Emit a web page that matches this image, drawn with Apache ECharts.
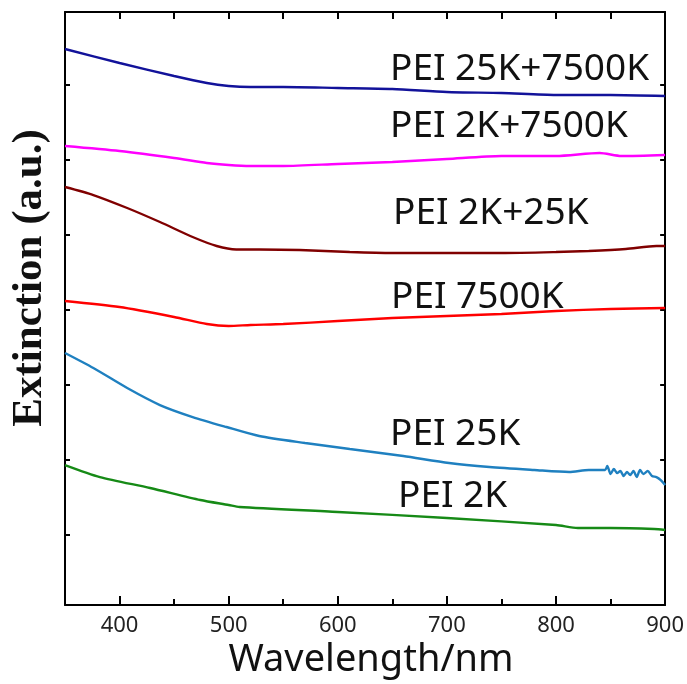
<!DOCTYPE html>
<html>
<head>
<meta charset="utf-8">
<script src="https://cdn.jsdelivr.net/npm/echarts@6/dist/echarts.min.js"></script>
<style>
  html, body { margin: 0; background: #fff; }
  #chart { width: 687px; height: 684px; }
</style>
</head>
<body>
<div id="chart"></div>
<script>
// Extinction spectra, arbitrary units (curves are vertically offset)
const xTickLabels = [400, 500, 600, 700, 800, 900];
const xMinorTicks = [450, 550, 650, 750, 850];
const yTicks = [0, 1, 2, 3, 4, 5, 6];
const yMin = -0.933, yMax = 6.973;

const wlMain = [350, 400, 450, 480, 500, 520, 550, 600, 650, 700, 750, 800, 850, 900];
const pei25k7500k = [6.48, 6.293, 6.12, 6.027, 5.987, 5.973, 5.973, 5.96, 5.947, 5.907, 5.893, 5.867, 5.867, 5.853];

const wlMagenta = [350, 400, 450, 480, 500, 520, 550, 600, 650, 700, 750, 800, 840, 860, 900];
const pei2k7500k = [5.187, 5.12, 5.027, 4.96, 4.933, 4.92, 4.92, 4.947, 4.973, 5.013, 5.053, 5.053, 5.093, 5.053, 5.067];

const wlDarkRed = [350, 376, 407, 437, 467, 489, 507, 528, 565, 611, 650, 750, 800, 830, 864, 892, 900];
const pei2k25k = [4.64, 4.533, 4.36, 4.173, 3.973, 3.853, 3.807, 3.807, 3.8, 3.773, 3.76, 3.76, 3.773, 3.787, 3.813, 3.853, 3.853];

const pei7500k = [3.12, 3.04, 2.907, 2.813, 2.787, 2.8, 2.813, 2.853, 2.893, 2.92, 2.947, 2.987, 3.013, 3.027];

const wl25k = [350, 376, 407, 437, 467, 498, 528, 570, 611, 660, 702, 739, 780, 812, 830, 845,
  847, 850, 853, 856, 859, 862, 865, 868, 871, 874, 877, 880, 884, 888, 892, 896, 900];
const pei25k = [2.427, 2.227, 1.96, 1.733, 1.573, 1.44, 1.32, 1.227, 1.147, 1.053, 0.96, 0.907, 0.867, 0.84, 0.867, 0.867,
  0.92, 0.813, 0.88, 0.827, 0.853, 0.787, 0.84, 0.8, 0.853, 0.773, 0.867, 0.813, 0.853, 0.787, 0.773, 0.733, 0.667];

const wl2k = [350, 382, 428, 474, 500, 510, 600, 700, 800, 820, 850, 890, 900];
const pei2k = [0.933, 0.773, 0.627, 0.467, 0.4, 0.373, 0.307, 0.227, 0.133, 0.093, 0.093, 0.08, 0.067];

const seriesNames = ['PEI 25K+7500K', 'PEI 2K+7500K', 'PEI 2K+25K', 'PEI 7500K', 'PEI 25K', 'PEI 2K'];
const seriesColors = ['#12129a', '#ff00ff', '#800000', '#ff0000', '#1f80c0', '#168a16'];
const seriesX = [wlMain, wlMagenta, wlDarkRed, wlMain, wl25k, wl2k];
const seriesY = [pei25k7500k, pei2k7500k, pei2k25k, pei7500k, pei25k, pei2k];

// where the curve names sit (pixels)
const labelPos = [[390, 68], [390, 125], [393, 212], [391, 296], [390, 433], [398, 495]];

const chart = echarts.init(document.getElementById('chart'));

const black = '#000';
const labelFont = 'Noto Sans';
const line = () => ({ onZero: false, lineStyle: { color: black, width: 2 } });
const tick = (len, vals) => ({ show: true, inside: true, length: len, customValues: vals, lineStyle: { color: black, width: 2 } });

// inward x ticks in data space (bottom: long at labels, short between; top: all alike)
const tickSeg = (x, y0, dy) => [{ coord: [x, y0] }, { coord: [x, y0 + dy] }];
const xTickSegs = [
  ...xTickLabels.map(x => tickSeg(x, yMin, 0.12)),
  ...xMinorTicks.map(x => tickSeg(x, yMin, 0.065)),
  ...xTickLabels.concat(xMinorTicks).map(x => tickSeg(x, yMax, -0.093)),
];

const series = seriesNames.map((name, i) => ({
  name, type: 'line', xAxisIndex: 0, yAxisIndex: 0,
  smooth: 0.25, showSymbol: false, clip: false,
  lineStyle: { color: seriesColors[i], width: 2.4 },
  data: seriesX[i].map((x, j) => [x, seriesY[i][j]]),
}));
series[0].markLine = {
  silent: true, animation: false, symbol: ['none', 'none'], label: { show: false },
  lineStyle: { color: black, width: 2, type: 'solid', opacity: 1 },
  emphasis: { disabled: true },
  data: xTickSegs,
};

chart.setOption({
  animation: false,
  grid: { left: 65, right: 21, top: 12, bottom: 79 },
  xAxis: [
    {
      type: 'value', min: 350, max: 900, interval: 50,
      axisLine: line(),
      axisTick: tick(6, xTickLabels.concat(xMinorTicks)),
      axisLabel: { customValues: xTickLabels, fontFamily: labelFont, fontSize: 22, color: '#222', margin: 10 },
      splitLine: { show: false },
    },
    {
      type: 'value', position: 'top', min: 350, max: 900, interval: 50,
      axisLine: line(),
      axisTick: tick(7, xTickLabels.concat(xMinorTicks)),
      axisLabel: { show: false },
      splitLine: { show: false },
    },
  ],
  yAxis: [
    {
      type: 'value', position: 'left', min: yMin, max: yMax,
      axisLine: line(),
      axisTick: tick(5, yTicks),
      axisLabel: { show: false },
      splitLine: { show: false },
    },
    {
      type: 'value', position: 'right', min: yMin, max: yMax,
      axisLine: line(),
      axisTick: tick(5, yTicks),
      axisLabel: { show: false },
      splitLine: { show: false },
    },
  ],
  series,
  graphic: seriesNames.map((name, i) => ({
    type: 'text', left: labelPos[i][0], top: labelPos[i][1] - 17,
    style: { text: name, fontFamily: labelFont, fontSize: 37, fill: '#111' },
  })).concat([
    {
      type: 'text', x: 30, y: 278, rotation: Math.PI / 2,
      style: { text: 'Extinction (a.u.)', fontFamily: 'Liberation Serif', fontWeight: 'bold', fontSize: 43,
        fill: '#111', align: 'center', verticalAlign: 'middle' },
    },
    {
      type: 'text', x: 371, y: 660,
      style: { text: 'Wavelength/nm', fontFamily: labelFont, fontSize: 38,
        fill: '#111', align: 'center', verticalAlign: 'middle' },
    },
  ]),
});
</script>
</body>
</html>
